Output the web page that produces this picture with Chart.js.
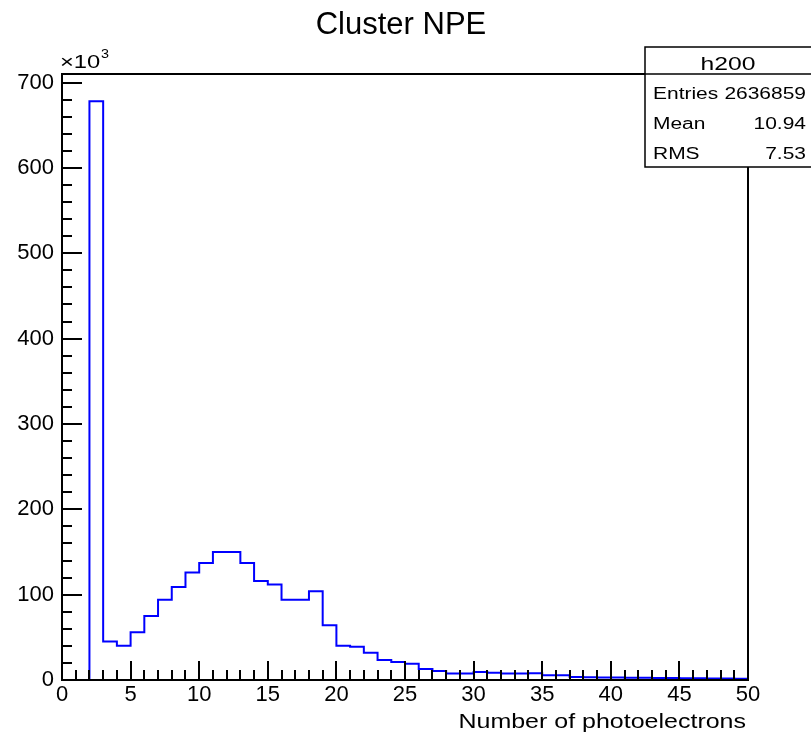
<!DOCTYPE html>
<html>
<head>
<meta charset="utf-8">
<title>Cluster NPE</title>
<script src="https://cdn.jsdelivr.net/npm/chart.js@4.4.1/dist/chart.umd.min.js"></script>
<style>
  html, body { margin: 0; padding: 0; background: #ffffff; }
  canvas { display: block; }
</style>
</head>
<body>
<canvas id="npe" width="811" height="734"></canvas>
<script>
// h200: 50 bins of width 1 on [0, 50], contents in units of 10^3
var binEdges = [0, 1, 2, 3, 4, 5, 6, 7, 8, 9, 10, 11, 12, 13, 14, 15, 16, 17, 18, 19, 20,
    21, 22, 23, 24, 25, 26, 27, 28, 29, 30, 31, 32, 33, 34, 35, 36, 37, 38, 39, 40,
    41, 42, 43, 44, 45, 46, 47, 48, 49, 50];
var binCounts = [0, 0, 678, 45, 40, 56, 75, 94, 109, 126,
    137, 150, 150, 137, 116, 112, 94, 94, 104, 64,
    40, 39, 32, 23.5, 21, 19, 13, 10.5, 7.5, 7.5,
    9.5, 8.5, 7.5, 7.5, 7.8, 5.5, 5.5, 3.5, 3.2, 3.0,
    2.9, 2.6, 2.6, 2.3, 2.2, 2.1, 2.0, 1.8, 1.8, 1.6];
var xTicks = [0, 5, 10, 15, 20, 25, 30, 35, 40, 45, 50];
var yTicks = [0, 100, 200, 300, 400, 500, 600, 700];
var statsLabels = ['Entries', 'Mean', 'RMS'];
var statsValues = ['2636859', '10.94', '7.53'];

var FONT = '"Liberation Sans", Arial, Helvetica, sans-serif';

// histogram outline: a point at each bin's left edge carrying that bin's content,
// plus the closing upper edge; 'before' steps run flat first, then vertical
var points = [{ x: binEdges[0], y: 0 }];
binCounts.forEach(function (c, i) {
    points.push({ x: binEdges[i], y: c });
});
points.push({ x: binEdges[binEdges.length - 1], y: binCounts[binCounts.length - 1] });

// text squeezed/stretched horizontally like the ROOT canvas text
function drawText(ctx, text, x, y, font, align, sx) {
    ctx.save();
    ctx.font = font;
    ctx.textAlign = align;
    ctx.textBaseline = 'alphabetic';
    ctx.translate(x, y);
    ctx.scale(sx, 1);
    ctx.fillText(text, 0, 0);
    ctx.restore();
}

var rootFrame = {
    id: 'rootFrame',
    afterDatasetsDraw: function (chart) {
        var ctx = chart.ctx;
        var a = chart.chartArea;
        var xs = chart.scales.x, ys = chart.scales.y;

        ctx.save();
        ctx.strokeStyle = '#000';
        ctx.fillStyle = '#000';

        // inner tick marks
        ctx.lineWidth = 2;
        ctx.beginPath();
        for (var i = 1; i < 50; i++) {
            var px = Math.round(xs.getPixelForValue(i));
            var len = (i % 5 === 0) ? 19 : 10;
            ctx.moveTo(px, a.bottom);
            ctx.lineTo(px, a.bottom - len);
        }
        for (var v = 20; v <= 700; v += 20) {
            var py = Math.round(ys.getPixelForValue(v));
            var ylen = (v % 100 === 0) ? 20 : 10;
            ctx.moveTo(a.left, py);
            ctx.lineTo(a.left + ylen, py);
        }
        ctx.stroke();

        // frame
        ctx.lineWidth = 2;
        ctx.strokeRect(a.left, a.top, a.right - a.left, a.bottom - a.top);

        // title and axis annotations
        drawText(ctx, 'Cluster NPE', 401, 34, '31px ' + FONT, 'center', 1);
        drawText(ctx, '\u00d710', 60, 68, '19px ' + FONT, 'left', 1.25);
        drawText(ctx, '3', 101, 58, '12px ' + FONT, 'left', 1.2);
        drawText(ctx, 'Number of photoelectrons', 746, 728, '21px ' + FONT, 'right', 1.19);

        // stats box
        var bx = 645, by = 47, bw = 170, bh = 120, hdr = 27;
        ctx.fillStyle = '#fff';
        ctx.fillRect(bx, by, bw, bh);
        ctx.lineWidth = 1.5;
        ctx.strokeRect(bx, by, bw, bh);
        ctx.beginPath();
        ctx.moveTo(bx, by + hdr);
        ctx.lineTo(bx + bw, by + hdr);
        ctx.stroke();
        ctx.fillStyle = '#000';
        drawText(ctx, 'h200', 728, 70, '19px ' + FONT, 'center', 1.3);
        for (var k = 0; k < statsLabels.length; k++) {
            var base = 99 + k * 30;
            drawText(ctx, statsLabels[k], 653, base, '16px ' + FONT, 'left', 1.31);
            drawText(ctx, statsValues[k], 806, base, '16px ' + FONT, 'right', 1.31);
        }
        ctx.restore();
    }
};

new Chart(document.getElementById('npe'), {
    type: 'line',
    data: {
        datasets: [{
            label: 'h200',
            data: points,
            stepped: 'before',
            borderColor: '#0000ff',
            borderWidth: 2,
            pointRadius: 0,
            fill: false
        }]
    },
    plugins: [rootFrame],
    options: {
        responsive: false,
        animation: false,
        devicePixelRatio: 1,
        layout: { padding: { top: 74, right: 63, left: 0, bottom: 0 } },
        plugins: {
            legend: { display: false },
            title: { display: false },
            tooltip: { enabled: false }
        },
        scales: {
            x: {
                type: 'linear',
                min: 0,
                max: 50,
                grid: { display: false, drawTicks: false },
                border: { display: false },
                afterBuildTicks: function (scale) {
                    scale.ticks = xTicks.map(function (v) { return { value: v }; });
                },
                afterFit: function (scale) { scale.height = 54; },
                ticks: {
                    autoSkip: false,
                    maxRotation: 0,
                    padding: 2,
                    color: '#000',
                    font: { family: FONT, size: 22 }
                }
            },
            y: {
                type: 'linear',
                min: 0,
                max: 710,
                grid: { display: false, drawTicks: false },
                border: { display: false },
                afterBuildTicks: function (scale) {
                    scale.ticks = yTicks.map(function (v) { return { value: v }; });
                },
                afterFit: function (scale) { scale.width = 62; },
                ticks: {
                    autoSkip: false,
                    padding: 8,
                    color: '#000',
                    font: { family: FONT, size: 22 }
                }
            }
        }
    }
});
</script>
</body>
</html>
